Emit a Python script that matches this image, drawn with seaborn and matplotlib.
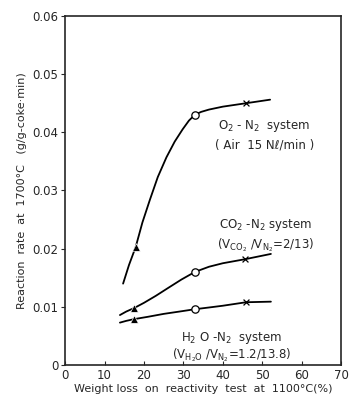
import matplotlib
matplotlib.use("Agg")
import matplotlib.pyplot as plt
import seaborn as sns
import pandas as pd

# traced curve vertices (weight loss %, reaction rate)
o2_curve_x = [14.7, 16.2, 17.9, 19.6, 21.5, 23.5, 25.7, 27.8, 29.8, 31.4, 32.9, 34.5, 36.5, 40.0, 46.0, 52.0]
o2_curve_y = [0.0140, 0.0172, 0.0203, 0.0245, 0.0284, 0.0323, 0.0357, 0.0384, 0.0405, 0.0420, 0.0430, 0.0435, 0.0439, 0.0444, 0.0450, 0.0456]
co2_curve_x = [13.9, 15.5, 17.5, 20.0, 23.0, 26.0, 29.5, 32.9, 36.5, 40.0, 45.7, 52.2]
co2_curve_y = [0.0086, 0.0092, 0.0098, 0.0107, 0.0119, 0.0132, 0.0147, 0.0160, 0.0169, 0.0175, 0.0182, 0.0191]
h2o_curve_x = [13.9, 15.5, 17.5, 21.0, 25.0, 29.0, 32.9, 36.5, 40.0, 45.9, 52.2]
h2o_curve_y = [0.0073, 0.0076, 0.0079, 0.0083, 0.0088, 0.0092, 0.0096, 0.0099, 0.0102, 0.0108, 0.0109]

# measured points
tri_x = [17.9, 17.5, 17.5]
tri_y = [0.0203, 0.0098, 0.0079]
circ_x = [32.9, 32.9, 32.9]
circ_y = [0.0430, 0.0160, 0.0096]
cross_x = [46.0, 45.7, 45.9]
cross_y = [0.0450, 0.0182, 0.0108]

x_ticks = [0, 10, 20, 30, 40, 50, 60, 70]
y_ticks = [0, 0.01, 0.02, 0.03, 0.04, 0.05, 0.06]
y_tick_labels = ["0", "0.01", "0.02", "0.03", "0.04", "0.05", "0.06"]

sns.set_style("ticks")
plt.rcParams["font.family"] = ["DejaVu Sans"]
plt.rcParams["mathtext.fontset"] = "dejavusans"

fig = plt.figure(figsize=(3.56, 3.96), dpi=100)
ax = fig.add_axes([0.183, 0.078, 0.775, 0.882])

for cx, cy in [(o2_curve_x, o2_curve_y), (co2_curve_x, co2_curve_y), (h2o_curve_x, h2o_curve_y)]:
    df = pd.DataFrame({"x": cx, "y": cy})
    sns.lineplot(data=df, x="x", y="y", ax=ax, color="black", linewidth=1.3, sort=False)

sns.scatterplot(x=tri_x, y=tri_y, ax=ax, marker="^", color="black", s=30, zorder=5)
sns.scatterplot(x=circ_x, y=circ_y, ax=ax, marker="o", facecolor="white", edgecolor="black",
                linewidth=0.9, s=28, zorder=5)
sns.scatterplot(x=cross_x, y=cross_y, ax=ax, marker="x", color="black", linewidth=0.9, s=18, zorder=5)

fs = 8.5
ax.text(50.5, 0.0411, r"O$_2$ - N$_2$  system", ha="center", va="center", fontsize=fs)
ax.text(50.5, 0.0378, "( Air  15 N\u2113/min )", ha="center", va="center", fontsize=fs)
ax.text(50.8, 0.0241, r"CO$_2$ -N$_2$ system", ha="center", va="center", fontsize=fs)
ax.text(50.8, 0.0206, r"(V$_{\mathrm{CO_2}}$ /V$_{\mathrm{N_2}}$=2/13)", ha="center", va="center", fontsize=fs)
ax.text(42.2, 0.0046, r"H$_2$ O -N$_2$  system", ha="center", va="center", fontsize=fs)
ax.text(42.2, 0.0017, r"(V$_{\mathrm{H_2O}}$ /V$_{\mathrm{N_2}}$=1.2/13.8)", ha="center", va="center", fontsize=fs)

ax.set_xlim(0, 70)
ax.set_ylim(0, 0.06)
ax.set_xticks(x_ticks)
ax.set_yticks(y_ticks)
ax.set_yticklabels(y_tick_labels)
ax.tick_params(axis="x", direction="in", length=3, labelsize=fs, pad=3)
ax.tick_params(axis="y", direction="out", length=3, labelsize=fs, pad=2)
ax.set_xlabel("Weight loss  on  reactivity  test  at  1100\u00b0C(%)", fontsize=8, labelpad=1)
ax.set_ylabel("Reaction  rate  at  1700\u00b0C   (g/g-coke\u00b7min)", fontsize=8, labelpad=4)
for s in ax.spines.values():
    s.set_visible(True)
    s.set_linewidth(1.2)

fig.savefig("out.png", dpi=100)
